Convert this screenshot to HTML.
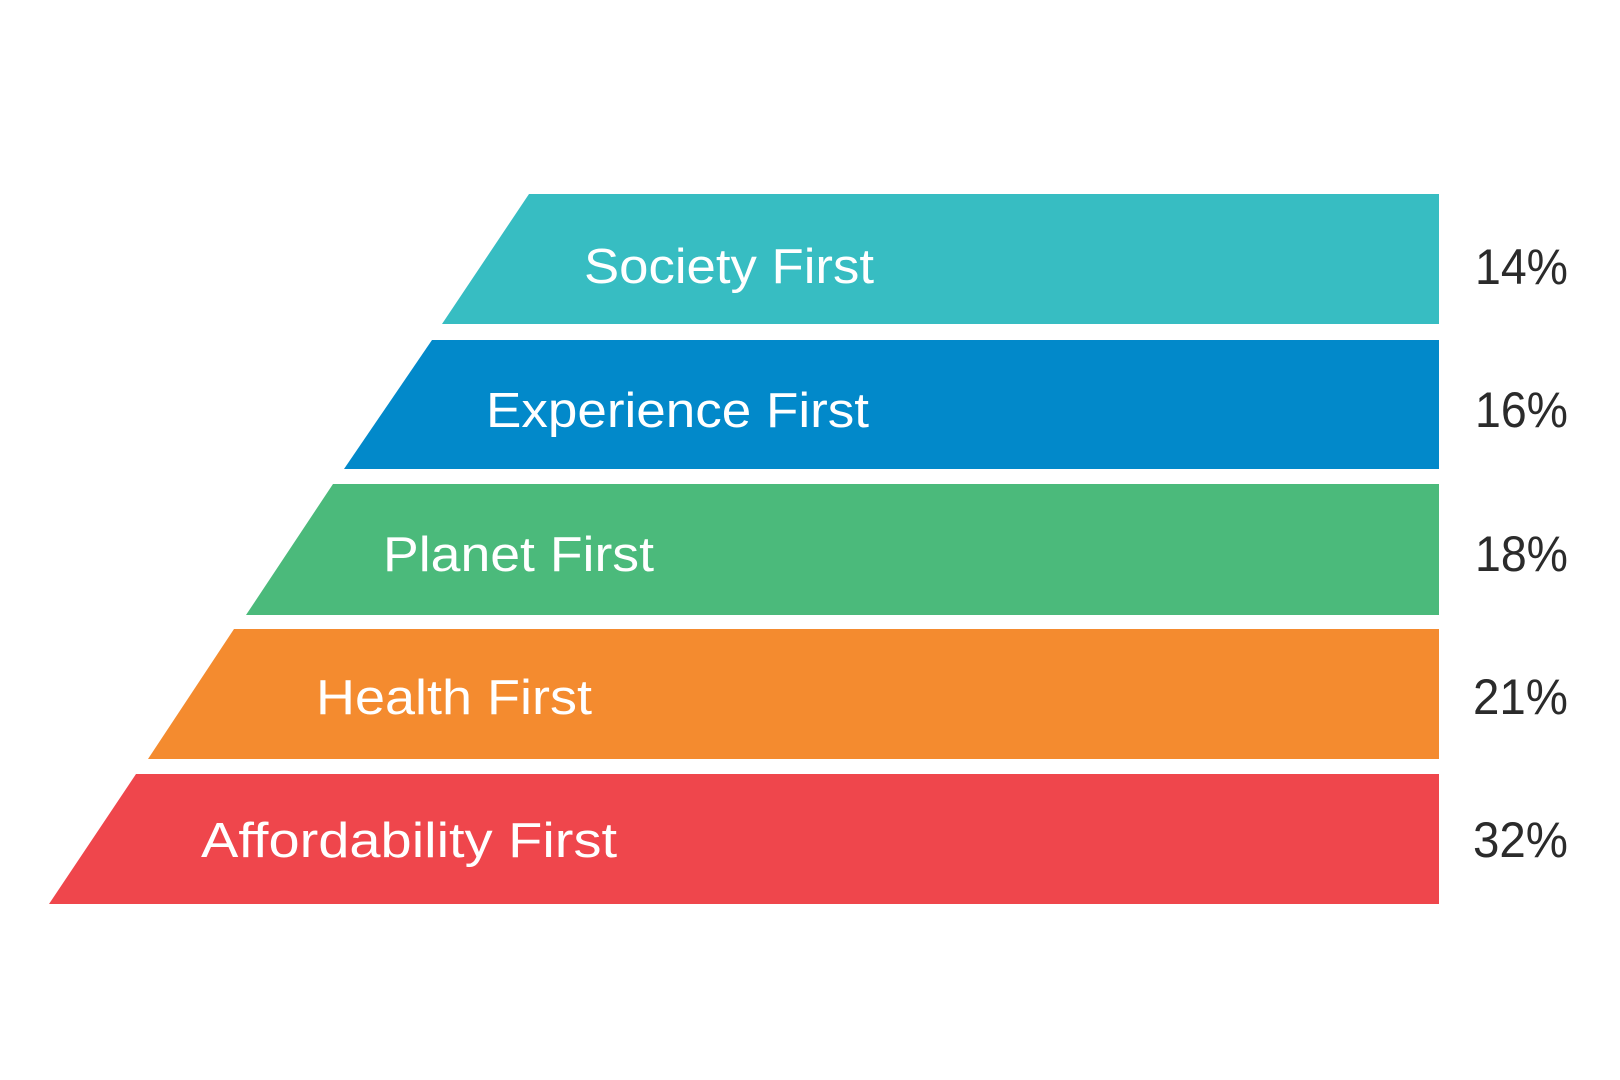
<!DOCTYPE html>
<html><head><meta charset="utf-8"><style>
html,body{margin:0;padding:0;background:#fff;}
svg{display:block;}
text{font-family:"Liberation Sans","DejaVu Sans",sans-serif;}
</style></head><body>
<svg width="1620" height="1080" viewBox="0 0 1620 1080" xmlns="http://www.w3.org/2000/svg">
<rect width="1620" height="1080" fill="#fff"/>
<polygon points="529,194 1439,194 1439,324 442,324" fill="#37bdc2"/>
<polygon points="432,340 1439,340 1439,469 344,469" fill="#0289ca"/>
<polygon points="333,484 1439,484 1439,615 246,615" fill="#4bba7b"/>
<polygon points="234,629 1439,629 1439,759 148,759" fill="#f48b2f"/>
<polygon points="136,774 1439,774 1439,904 49,904" fill="#ef464c"/>
<g fill="#fff" font-size="49">
<text x="584" y="283" textLength="290" lengthAdjust="spacingAndGlyphs">Society First</text>
<text x="486" y="427" textLength="383" lengthAdjust="spacingAndGlyphs">Experience First</text>
<text x="383" y="571" textLength="271" lengthAdjust="spacingAndGlyphs">Planet First</text>
<text x="316" y="714" textLength="276" lengthAdjust="spacingAndGlyphs">Health First</text>
<text x="201" y="857" textLength="416" lengthAdjust="spacingAndGlyphs">Affordability First</text>
</g>
<g fill="#2b2b2b" font-size="50">
<text x="1475" y="284" textLength="93" lengthAdjust="spacingAndGlyphs">14%</text>
<text x="1475" y="427" textLength="93" lengthAdjust="spacingAndGlyphs">16%</text>
<text x="1475" y="571" textLength="93" lengthAdjust="spacingAndGlyphs">18%</text>
<text x="1473" y="714" textLength="95" lengthAdjust="spacingAndGlyphs">21%</text>
<text x="1473" y="857" textLength="95" lengthAdjust="spacingAndGlyphs">32%</text>
</g>
</svg>
</body></html>
